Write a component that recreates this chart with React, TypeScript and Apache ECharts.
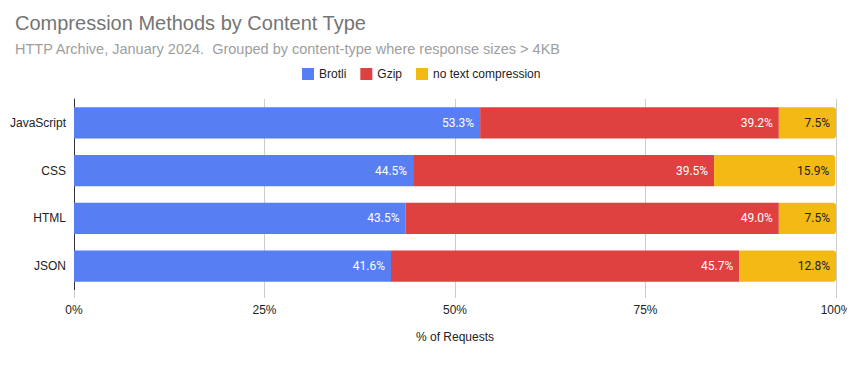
import React, { useEffect, useRef } from "react";
import * as echarts from "echarts";

const categories = ["JavaScript", "CSS", "HTML", "JSON"];
const brotli = [53.3, 44.5, 43.5, 41.6];
const gzip = [39.2, 39.5, 49.0, 45.7];
const noCompression = [7.5, 15.9, 7.5, 12.8];
const xTicks = [0, 25, 50, 75, 100];

export default function App() {
  const ref = useRef<HTMLDivElement>(null);
  useEffect(() => {
    if (!ref.current) return;
    const chart = echarts.init(ref.current, null, { renderer: "svg" });
    const labelBase = {
      show: true,
      position: "insideRight" as const,
      fontFamily: "Roboto",
      fontSize: 12,
      fontWeight: "normal",
      distance: 6,
      formatter: (p: any) => p.value.toFixed(1) + "%",
    };
    chart.setOption({
      animation: false,
      textStyle: { fontFamily: "Liberation Sans, Arial, sans-serif" },
      title: [
        {
          text: "Compression Methods by Content Type",
          left: 10,
          top: 8,
          textStyle: { fontSize: 20, fontWeight: "normal", color: "#757575", fontFamily: "Liberation Sans, Arial" },
        },
        {
          text: "HTTP Archive, January 2024.  Grouped by content-type where response sizes > 4KB",
          left: 10,
          top: 36,
          textStyle: { fontSize: 14.5, fontWeight: "normal", color: "#9e9e9e", fontFamily: "Liberation Sans, Arial" },
        },
      ],
      legend: {
        top: 63,
        left: 297,
        itemWidth: 12,
        itemHeight: 12,
        itemGap: 14,
        icon: "rect",
        textStyle: { fontSize: 12, color: "#222", fontFamily: "Liberation Sans, Arial" },
      },
      grid: { left: 74, right: 19, top: 99, bottom: 75, containLabel: false },
      xAxis: {
        type: "value",
        min: 0,
        max: 100,
        interval: 25,
        name: "% of Requests",
        nameLocation: "middle",
        nameGap: 41,
        nameTextStyle: { fontSize: 12, color: "#222" },
        axisLabel: {
          formatter: (v: number) => (xTicks.includes(v) ? v + "%" : ""),
          color: "#222",
          fontSize: 12,
          margin: 14,
        },
        axisLine: { show: false },
        axisTick: { show: true, length: 8, lineStyle: { color: "#cccccc" } },
        splitLine: { show: true, lineStyle: { color: "#cccccc", width: 1 } },
      },
      yAxis: {
        type: "category",
        data: categories,
        inverse: true,
        axisLine: { show: true, lineStyle: { color: "#333", width: 1 } },
        axisTick: { show: false },
        axisLabel: { color: "#222", fontSize: 12, margin: 8 },
      },
      series: [
        {
          name: "Brotli",
          type: "bar",
          stack: "total",
          data: brotli,
          barCategoryGap: "35%",
          itemStyle: { color: "#587ef3" },
          label: { ...labelBase, color: "#fff" },
        },
        {
          name: "Gzip",
          type: "bar",
          stack: "total",
          data: gzip,
          itemStyle: { color: "#de413f" },
          label: { ...labelBase, color: "#fff" },
        },
        {
          name: "no text compression",
          type: "bar",
          stack: "total",
          data: noCompression,
          itemStyle: { color: "#f3ba14", borderRadius: [0, 3, 3, 0] },
          label: { ...labelBase, color: "#222" },
        },
      ],
    });
    return () => chart.dispose();
  }, []);
  return <div ref={ref} style={{ width: 855, height: 365, margin: -8 }} />;
}
